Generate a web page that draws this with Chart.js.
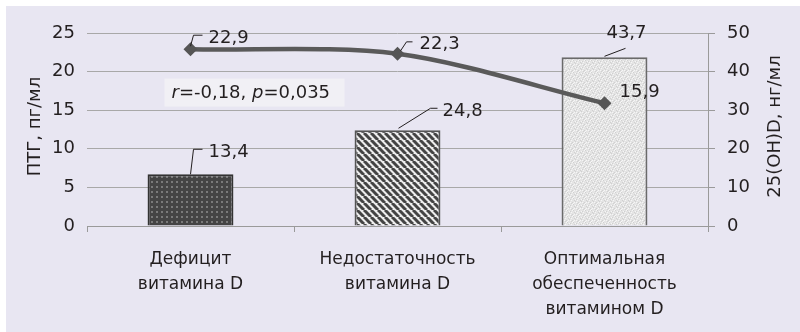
<!DOCTYPE html>
<html><head><meta charset="utf-8">
<script src="https://cdn.jsdelivr.net/npm/chart.js@4/dist/chart.umd.min.js"></script>
<style>html,body{margin:0;padding:0;background:#fff}#wrap{width:800px;height:332px;position:relative}canvas{display:block}</style>
</head><body><div id="wrap"><canvas id="c" width="800" height="332"></canvas></div>
<script>
// ---- data ----
const categories = [["Дефицит","витамина D"],["Недостаточность","витамина D"],["Оптимальная","обеспеченность","витамином D"]];
const vitaminD = [13.4, 24.8, 43.7];   // 25(OH)D, нг/мл (bars, right axis)
const ptg = [22.9, 22.3, 15.9];        // ПТГ, пг/мл (line, left axis)
const leftTicks = [0, 5, 10, 15, 20, 25];
const rightTicks = [0, 10, 20, 30, 40, 50];
const leftTitle = "ПТГ, пг/мл";
const rightTitle = "25(OH)D, нг/мл";
const noteParts = [["r", true], ["=-0,18, ", false], ["p", true], ["=0,035", false]];

const FONT = "'DejaVu Sans', 'Liberation Sans', Arial, sans-serif";
const TXT = '#231f20';
const fmt = v => v.toFixed(1).replace('.', ',');

function makePattern(kind){
  const c = document.createElement('canvas');
  const x = c.getContext('2d');
  if(kind === 'dots'){
    c.width = c.height = 5;
    x.fillStyle = '#444444'; x.fillRect(0,0,5,5);
    x.fillStyle = '#7a7a7a'; x.fillRect(1,1,2,2);
  } else if(kind === 'stripes'){
    c.width = c.height = 7;
    x.fillStyle = '#ededed'; x.fillRect(0,0,7,7);
    x.strokeStyle = '#444444'; x.lineWidth = 3;
    for(let k=-1;k<=1;k++){ x.beginPath(); x.moveTo(k*7,0); x.lineTo(k*7+7,7); x.stroke(); }
  } else {
    c.width = c.height = 6;
    x.fillStyle = '#e4e4e4'; x.fillRect(0,0,6,6);
    x.fillStyle = '#d0d0d0';
    [[0,1],[3,0],[5,3],[2,4],[1,5],[4,2]].forEach(p=>x.fillRect(p[0],p[1],1,1));
    x.fillStyle = '#f6f6f6';
    [[1,2],[4,4],[2,0],[5,1],[0,4],[3,5]].forEach(p=>x.fillRect(p[0],p[1],1,1));
  }
  return x.createPattern(c, 'repeat');
}

const bgPlugin = {
  id: 'bg',
  beforeDraw(chart){
    const ctx = chart.ctx;
    ctx.save();
    ctx.fillStyle = '#e8e6f2';
    ctx.fillRect(6, 6, chart.width - 6, chart.height - 6);
    ctx.restore();
  }
};

const annot = {
  id: 'annot',
  afterDatasetsDraw(chart){
    const ctx = chart.ctx;
    const ca = chart.chartArea;
    const bars = chart.getDatasetMeta(1).data;
    const pts = chart.getDatasetMeta(0).data;
    ctx.save();
    ctx.font = '18px ' + FONT;
    ctx.fillStyle = TXT;
    ctx.strokeStyle = '#231f20';
    ctx.lineWidth = 1;
    ctx.textBaseline = 'middle';
    ctx.textAlign = 'left';
    // line labels
    const lineOffs = [
      {lead:[[0,-3],[3,-14],[12,-14]], tx:18, ty:-11},
      {lead:[[3,-3],[9,-12],[15,-12]], tx:22, ty:-10},
      {lead:null, tx:15, ty:-11}
    ];
    pts.forEach((p,i)=>{
      const o = lineOffs[i];
      if(o.lead){
        ctx.beginPath(); ctx.moveTo(p.x + o.lead[0][0], p.y + o.lead[0][1]);
        for(let k=1;k<o.lead.length;k++) ctx.lineTo(p.x+o.lead[k][0], p.y+o.lead[k][1]);
        ctx.stroke();
      }
      ctx.fillText(fmt(ptg[i]), p.x + o.tx, p.y + o.ty);
    });
    // bar labels
    const barOffs = [
      {lead:[[0,0],[3,-25],[12,-25]], tx:18, ty:-22, align:'left'},
      {lead:[[1,-2],[33,-22],[40,-22]], tx:45, ty:-19, align:'left'},
      {lead:[[0,-1],[21,-9]], tx:22, ty:-24, align:'center'}
    ];
    bars.forEach((b,i)=>{
      const o = barOffs[i];
      ctx.beginPath(); ctx.moveTo(b.x+o.lead[0][0], b.y+o.lead[0][1]);
      for(let k=1;k<o.lead.length;k++) ctx.lineTo(b.x+o.lead[k][0], b.y+o.lead[k][1]);
      ctx.stroke();
      ctx.textAlign = o.align;
      ctx.fillText(fmt(vitaminD[i]), b.x + o.tx, b.y + o.ty);
    });
    // note box
    const yL = chart.scales.yL, xS = chart.scales.x;
    const bx = xS.getPixelForValue(0) - 26, by = yL.getPixelForValue(19.1);
    const bw = 180, bh = 28;
    ctx.fillStyle = '#f1f0f5';
    ctx.fillRect(bx, by, bw, bh);
    ctx.fillStyle = TXT;
    ctx.textAlign = 'left';
    let tx = bx + 7;
    noteParts.forEach(([t, it])=>{
      ctx.font = (it ? 'italic ' : '') + '18px ' + FONT;
      ctx.fillText(t, tx, by + bh/2 + 1);
      tx += ctx.measureText(t).width;
    });
    // axis titles
    ctx.font = '18px ' + FONT;
    ctx.textAlign = 'center';
    const cy = (ca.top + ca.bottom)/2;
    ctx.save(); ctx.translate(35, cy - 3); ctx.rotate(-Math.PI/2); ctx.fillText(leftTitle, 0, 0); ctx.restore();
    ctx.save(); ctx.translate(775, cy - 3); ctx.rotate(-Math.PI/2); ctx.fillText(rightTitle, 0, 0); ctx.restore();
    ctx.restore();
  }
};

new Chart(document.getElementById('c'), {
  data: {
    labels: categories,
    datasets: [
      {
        type: 'line', label: 'ПТГ', data: ptg, yAxisID: 'yL', order: 0,
        borderColor: '#5a5a5a', borderWidth: 4.5, tension: 0.3,
        pointStyle: 'rectRot', pointRadius: 7, pointHoverRadius: 7,
        pointBackgroundColor: '#555', pointBorderColor: '#555', pointBorderWidth: 0
      },
      {
        type: 'bar', label: '25(OH)D', data: vitaminD, yAxisID: 'yR', order: 1,
        backgroundColor: [makePattern('dots'), makePattern('stripes'), makePattern('light')],
        borderColor: ['#333333', '#555555', '#6a6a6a'], borderWidth: 2,
        barPercentage: 0.415, categoryPercentage: 1
      }
    ]
  },
  options: {
    responsive: false, animation: false, devicePixelRatio: 1,
    layout: { padding: { top: 33, right: 0, left: 0, bottom: 0 } },
    plugins: { legend: { display: false }, tooltip: { enabled: false } },
    scales: {
      x: {
        grid: { drawOnChartArea: false, drawTicks: true, tickLength: 6, color: '#9a9a9a', offset: true },
        border: { display: true, color: '#9a9a9a' },
        ticks: { color: TXT, font: { family: FONT, size: 17, lineHeight: 1.47 }, padding: 15, maxRotation: 0, autoSkip: false },
        afterFit(s){ s.height = 106; }
      },
      yL: {
        position: 'left', min: 0, max: 25,
        afterBuildTicks(s){ s.ticks = leftTicks.map(v=>({value:v})); },
        grid: { color: '#a8a8a8', drawTicks: false },
        border: { display: false },
        ticks: { color: TXT, font: { family: FONT, size: 18 }, padding: 12 },
        afterFit(s){ s.width = 87; }
      },
      yR: {
        position: 'right', min: 0, max: 50,
        afterBuildTicks(s){ s.ticks = rightTicks.map(v=>({value:v})); },
        grid: { drawOnChartArea: false, drawTicks: true, tickLength: 7, color: '#9a9a9a' },
        border: { display: true, color: '#9a9a9a' },
        ticks: { color: TXT, font: { family: FONT, size: 18 }, padding: 12 },
        afterFit(s){ s.width = 92; }
      }
    }
  },
  plugins: [bgPlugin, annot]
});
</script></body></html>
